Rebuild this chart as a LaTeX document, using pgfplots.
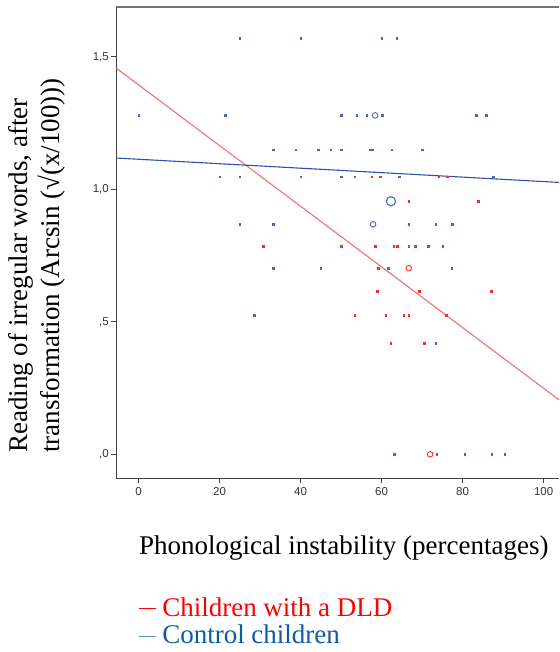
\documentclass[border=0pt]{standalone}
\usepackage{pgfplots}
\pgfplotsset{compat=1.18}
\usepackage{fontspec}
\setmainfont{Liberation Serif}
\newfontfamily\arialfont{Liberation Sans}
\definecolor{dldred}{HTML}{F03030}
\definecolor{ctlblue}{HTML}{4B64C8}
\definecolor{redline}{HTML}{F07070}
\definecolor{blueline}{HTML}{3050B0}
\definecolor{legblue}{HTML}{0A5CA8}
\definecolor{legred}{HTML}{FF0000}
\begin{document}
\begin{tikzpicture}
\begin{axis}[
  at={(0,0)}, anchor=south west,
  scale only axis, width=442.7pt, height=471.3pt,
  xmin=-5.5, xmax=103.8, ymin=-0.0906, ymax=1.688,
  axis lines*=left,
  axis line style={draw=black!75, line width=1.2pt},
  tick align=outside,
  major tick length=5pt,
  tick style={draw=black!75, line width=1pt},
  xtick={0,20,40,60,80,100},
  xticklabels={0,20,40,60,80,100},
  ytick={0,0.5,1,1.5},
  yticklabels={{,0},{,5},{1,0},{1,5}},
  tick label style={font=\arialfont\fontsize{11.5}{13}\selectfont, text=black!80},
  xticklabel style={yshift=-1pt},
  yticklabel style={xshift=1pt},
  clip=false,
]
\addplot[redline, line width=1.1pt] coordinates {(-5.5,1.457) (103.8,0.2055)};
\addplot[blueline, line width=1.1pt] coordinates {(-5.5,1.118) (103.8,1.026)};
% control children: single cases
\addplot[only marks, mark=square*, mark size=0.8pt, mark options={draw=ctlblue, fill=ctlblue}] coordinates {
(25,1.571) (40,1.571) (60,1.571) (63.7,1.571)
(0,1.279) (21.4,1.279) (50,1.279) (53.9,1.279) (56.3,1.279) (60.1,1.279) (83.4,1.279) (85.8,1.279)
(33.3,1.150) (44.4,1.150) (47.4,1.150) (50,1.150) (57.1,1.150) (62.5,1.150) (70,1.150)
(20,1.047) (25,1.047) (40,1.047) (50,1.047) (53.4,1.047) (64.3,1.047) (87.6,1.047)
(25,0.868) (33.3,0.868) (73.4,0.868)
(66.7,0.785) (71.5,0.785)
(33.3,0.702) (45,0.702) (61.6,0.702)
(28.5,0.524)
(73.4,0.420)
};
% control children: repeated cases
\addplot[only marks, mark=o, mark size=2.8pt, mark options={draw=ctlblue, line width=0.9pt}] coordinates {
(58.4,1.279) (57.9,0.868)
};
\addplot[only marks, mark=o, mark size=4.6pt, mark options={draw=ctlblue, line width=1.1pt}] coordinates {
(62.3,0.955)
};
% children with a DLD: single cases
\addplot[only marks, mark=square*, mark size=0.8pt, mark options={draw=dldred, fill=dldred}] coordinates {
(38.8,1.150) (57.7,1.150)
(57.6,1.047) (59.6,1.047) (74.1,1.047) (76.2,1.047)
(66.7,0.955) (83.9,0.955)
(66.7,0.868) (77.5,0.868)
(30.7,0.785) (50,0.785) (58.4,0.785) (63,0.785) (63.8,0.785) (68.3,0.785) (75.1,0.785)
(59.2,0.702) (77.3,0.702)
(58.9,0.615) (69.3,0.615) (87.1,0.615)
(53.4,0.524) (61,0.524) (65.5,0.524) (66.7,0.524) (76,0.524)
(62.2,0.420) (70.5,0.420)
(63.1,0) (73.6,0) (80.5,0) (87.2,0) (90.4,0)
};
% children with a DLD: repeated cases
\addplot[only marks, mark=o, mark size=2.8pt, mark options={draw=dldred, line width=0.9pt}] coordinates {
(66.7,0.702) (72,0)
};
\draw[black!55, line width=2pt] (rel axis cs:0,1) -- (rel axis cs:1,1);
\end{axis}
% axis titles
\node[rotate=90, anchor=base west, inner sep=0pt, font=\fontsize{27}{31}\selectfont] at (-88.3pt,25.3pt) {Reading of irregular words, after};
\node[rotate=90, anchor=base west, inner sep=0pt, font=\fontsize{27}{31}\selectfont] at (-56.3pt,25.3pt) {transformation (Arcsin (√(x/100)))};
\node[anchor=base west, inner sep=0pt, font=\fontsize{27}{31}\selectfont] at (22.7pt,-76.7pt) {Phonological instability (percentages)};
% legend
\node[anchor=base west, inner sep=0pt, font=\fontsize{27}{31}\selectfont, text=legred] at (22pt,-137.7pt) {{\color{legred}\rule[0.27em]{17pt}{0.7pt}} Children with a DLD};
\node[anchor=base west, inner sep=0pt, font=\fontsize{27}{31}\selectfont, text=legblue] at (22pt,-165.5pt) {{\color{legblue!70}\rule[0.27em]{17pt}{0.7pt}} Control children};
\pgfresetboundingbox
\path (-116.3pt,-173.7pt) rectangle (442.7pt,478.3pt);
\end{tikzpicture}
\end{document}
